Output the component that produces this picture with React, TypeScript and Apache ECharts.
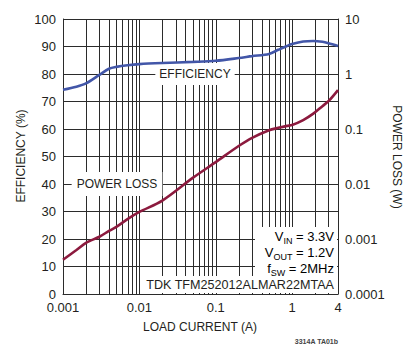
import React, { useEffect, useRef } from "react";
import * as echarts from "echarts";

// Load current in amperes (log x axis)
const loadCurrent = [
  0.001, 0.0015, 0.002, 0.003, 0.004, 0.005, 0.007, 0.01, 0.02, 0.05, 0.1, 0.2, 0.3, 0.5,
  0.66, 0.86, 1.0, 1.4, 1.9, 2.5, 3.0, 4.0,
];
// Efficiency in percent (left axis)
const efficiency = [
  74.3, 75.4, 76.6, 79.7, 81.9, 82.6, 83.2, 83.6, 84.0, 84.4, 84.8, 85.8, 86.5, 87.3,
  88.8, 90.2, 90.9, 91.8, 92.0, 91.7, 91.2, 90.2,
];
// Power loss in watts (right log axis)
const powerLoss = [
  0.00042, 0.00063, 0.00085, 0.0011, 0.0014, 0.00166, 0.0023, 0.0031, 0.005, 0.0129, 0.025,
  0.049, 0.069, 0.095, 0.105, 0.114, 0.118, 0.145, 0.19, 0.26, 0.32, 0.51,
];
// Vertical log grid positions (2..9 of each decade plus the decades)
const verticalGrid = [
  0.002, 0.003, 0.004, 0.005, 0.006, 0.007, 0.008, 0.009, 0.01, 0.02, 0.03, 0.04, 0.05, 0.06,
  0.07, 0.08, 0.09, 0.1, 0.2, 0.3, 0.4, 0.5, 0.6, 0.7, 0.8, 0.9, 1, 2, 3,
];

const FONT = "'Liberation Sans', Arial, sans-serif";
const INK = "#231f20";
const GRID = "#2b2b2b";

const fmt = (v: number) => String(Number(Number(v).toPrecision(3)));

export default function App() {
  const ref = useRef<HTMLDivElement>(null);

  useEffect(() => {
    if (!ref.current) return;
    const chart = echarts.init(ref.current, undefined, { renderer: "svg" });

    const sub = {
      n: { fontSize: 13, fontFamily: FONT, color: INK, lineHeight: 18, verticalAlign: "middle" },
      s: { fontSize: 9, fontFamily: FONT, color: INK, lineHeight: 9, verticalAlign: "bottom" },
    };

    chart.setOption({
      animation: false,
      backgroundColor: "#ffffff",
      grid: { left: 63, right: 72, top: 19, bottom: 53, show: false },
      xAxis: {
        type: "log",
        min: 0.001,
        max: 4,
        logBase: 10,
        axisLine: { show: true, lineStyle: { color: GRID, width: 1 } },
        axisTick: { show: false },
        splitLine: { show: false },
        axisLabel: {
          color: INK,
          fontSize: 13,
          fontFamily: FONT,
          margin: 7,
          formatter: (v: number) => fmt(v),
        },
      },
      yAxis: [
        {
          type: "value",
          min: 0,
          max: 100,
          interval: 10,
          axisLine: { show: true, lineStyle: { color: GRID, width: 1 } },
          axisTick: { show: false },
          splitLine: { show: true, lineStyle: { color: GRID, width: 1 } },
          axisLabel: { color: INK, fontSize: 13, fontFamily: FONT, margin: 7 },
        },
        {
          type: "log",
          min: 0.0001,
          max: 10,
          logBase: 10,
          position: "right",
          axisLine: { show: true, lineStyle: { color: GRID, width: 1 } },
          axisTick: { show: false },
          splitLine: { show: false },
          axisLabel: {
            color: INK,
            fontSize: 13,
            fontFamily: FONT,
            margin: 7,
            formatter: (v: number) => fmt(v),
          },
        },
      ],
      series: [
        {
          type: "custom",
          name: "grid",
          xAxisIndex: 0,
          yAxisIndex: 0,
          silent: true,
          z: 1,
          data: verticalGrid.map((v) => [v]),
          renderItem: (_params: any, api: any) => {
            const x = api.value(0);
            const p0 = api.coord([x, 0]);
            const p1 = api.coord([x, 100]);
            return {
              type: "line",
              shape: { x1: Math.round(p0[0]) + 0.5, y1: p0[1], x2: Math.round(p1[0]) + 0.5, y2: p1[1] },
              style: { stroke: GRID, lineWidth: 1 },
            };
          },
        },
        {
          type: "line",
          name: "EFFICIENCY",
          xAxisIndex: 0,
          yAxisIndex: 0,
          data: loadCurrent.map((x, i) => [x, efficiency[i]]),
          smooth: 0.3,
          showSymbol: false,
          lineStyle: { color: "#4256a8", width: 2.6 },
          z: 3,
        },
        {
          type: "line",
          name: "POWER LOSS",
          xAxisIndex: 0,
          yAxisIndex: 1,
          data: loadCurrent.map((x, i) => [x, powerLoss[i]]),
          smooth: 0.3,
          showSymbol: false,
          lineStyle: { color: "#8c1a3e", width: 2.6 },
          z: 3,
        },
      ],
      graphic: [
        {
          type: "text",
          x: 195,
          y: 74,
          z: 2,
          style: {
            text: "EFFICIENCY",
            fill: INK,
            font: `12px ${FONT}`,
            align: "center",
            verticalAlign: "middle",
            backgroundColor: "#ffffff",
            padding: [5, 4],
          },
        },
        {
          type: "text",
          x: 117,
          y: 184,
          z: 2,
          style: {
            text: "POWER LOSS",
            fill: INK,
            font: `12px ${FONT}`,
            align: "center",
            verticalAlign: "middle",
            backgroundColor: "#ffffff",
            padding: [6, 5],
          },
        },
        {
          type: "rect",
          z: 2,
          shape: { x: 255, y: 227, width: 82, height: 50 },
          style: { fill: "#ffffff" },
        },
        {
          type: "rect",
          z: 2,
          shape: { x: 140, y: 276, width: 197, height: 17 },
          style: { fill: "#ffffff" },
        },
        {
          type: "text",
          x: 334,
          y: 236,
          z: 4,
          style: {
            text: "{n|V}{s|IN}{n| = 3.3V}",
            rich: sub,
            align: "right",
            verticalAlign: "middle",
          },
        },
        {
          type: "text",
          x: 334,
          y: 252,
          z: 4,
          style: {
            text: "{n|V}{s|OUT}{n| = 1.2V}",
            rich: sub,
            align: "right",
            verticalAlign: "middle",
          },
        },
        {
          type: "text",
          x: 334,
          y: 268,
          z: 4,
          style: {
            text: "{n|f}{s|SW}{n| = 2MHz}",
            rich: sub,
            align: "right",
            verticalAlign: "middle",
          },
        },
        {
          type: "text",
          x: 334,
          y: 285,
          z: 4,
          style: {
            text: "TDK TFM252012ALMAR22MTAA",
            fill: INK,
            font: `12.6px ${FONT}`,
            align: "right",
            verticalAlign: "middle",
          },
        },
        {
          type: "text",
          x: 21,
          y: 156,
          rotation: Math.PI / 2,
          style: {
            text: "EFFICIENCY (%)",
            fill: INK,
            font: `12px ${FONT}`,
            align: "center",
            verticalAlign: "middle",
          },
        },
        {
          type: "text",
          x: 397,
          y: 157,
          rotation: -Math.PI / 2,
          style: {
            text: "POWER LOSS (W)",
            fill: INK,
            font: `12px ${FONT}`,
            align: "center",
            verticalAlign: "middle",
          },
        },
        {
          type: "text",
          x: 200,
          y: 327,
          style: {
            text: "LOAD CURRENT (A)",
            fill: INK,
            font: `12px ${FONT}`,
            align: "center",
            verticalAlign: "middle",
          },
        },
        {
          type: "text",
          x: 338,
          y: 341,
          style: {
            text: "3314A TA01b",
            fill: "#444",
            font: `bold 7px ${FONT}`,
            align: "right",
            verticalAlign: "middle",
          },
        },
      ],
    });

    return () => chart.dispose();
  }, []);

  return (
    <div
      ref={ref}
      style={{ position: "fixed", left: 0, top: 0, width: 410, height: 347, background: "#fff" }}
    />
  );
}
